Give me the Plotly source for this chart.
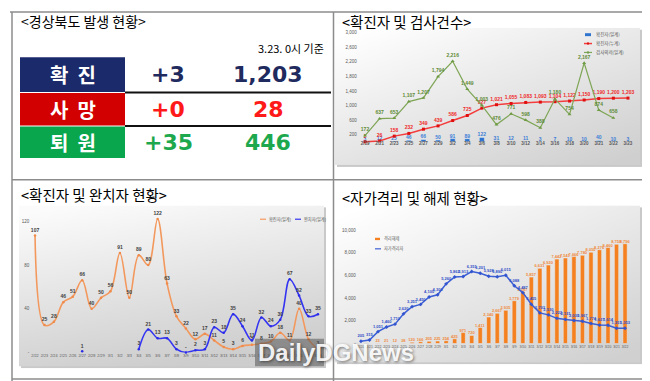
import base64
import plotly.graph_objects as go

W, H = 650, 381

# ---------------- data ----------------
summary_labels = ["확  진", "사  망", "퇴  원"]
summary_daily = ["+3", "+0", "+35"]
summary_total = ["1,203", "28", "446"]

test_dates = ["2/19", "2/21", "2/23", "2/25", "2/27", "2/29", "3/2", "3/4", "3/6", "3/8",
              "3/10", "3/12", "3/14", "3/16", "3/18", "3/20", "3/21", "3/22", "3/23"]
conf_daily_a = [3, 12, 25, 46, 66, 50, 91, 89, 122, 31, 12, 11, 3, 7, 10, 10, 40, 10, 3]
conf_cum_a = [1, 26, 158, 232, 349, 439, 586, 725, 927, 1021, 1055, 1083, 1093, 1104, 1122,
              1150, 1190, 1200, 1203]
tests_a = [172, 637, 653, 1107, 1207, 1794, 2216, 1449, 1003, 476, 771, 598, 388, 1180, 754,
           2167, 874, 658, None]
ticks_a = [-200, 200, 600, 1000, 1400, 1800, 2200, 2600, 3000]

rec_dates = ["2/22", "2/23", "2/24", "2/25", "2/26", "2/27", "2/28", "2/29", "3/1", "3/2",
             "3/3", "3/4", "3/5", "3/6", "3/7", "3/8", "3/9", "3/10", "3/11", "3/12", "3/13",
             "3/14", "3/15", "3/16", "3/17", "3/18", "3/19", "3/20", "3/21", "3/22", "3/23"]
conf_daily_b = [107, 25, 28, 46, 51, 66, 40, 50, 56, 91, 50, 89, 80, 122, 63, 33, 22, 12, 17,
                11, 5, 3, 6, 7, 8, 10, 18, 11, 40, 12, 3]
recovered_b = [None, None, None, None, None, 1, None, None, None, None, None, 3, 21, 13, 13, 3,
               0, 2, 3, 23, 18, 35, 24, 11, 32, 24, 30, 67, 52, 33, 35]
ticks_b = [0, 40, 80, 120]

iso_dates = ["2/20", "2/21", "2/22", "2/23", "2/24", "2/25", "2/26", "2/27", "2/28", "2/29",
             "3/1", "3/2", "3/3", "3/4", "3/5", "3/6", "3/7", "3/8", "3/9", "3/10", "3/11",
             "3/12", "3/13", "3/14", "3/15", "3/16", "3/17", "3/18", "3/19", "3/20", "3/21",
             "3/22"]
released_c = [None, None, 23, 21, 12, 38, 120, 166, 205, 225, 254, 425, 971, 720, 1411, 2340,
              2667, 2935, 3779, 4587, 5857, 6631, 6920, 7442, 7541, 7666, 7780, 8050, 8276,
              8460, 8750, 8796]
isolated_c = [205, 315, 1051, 1460, 1710, 2620, 3251, 3450, 4100, 4300, 5260, 5862, 5913, 6351,
              6201, 5928, 5890, 6015, 5088, 4487, 3455, 2703, 2530, 2222, 2131, 2030, 1967,
              1774, 1627, 1614, 1351, 1353]
ticks_c = [0, 2000, 4000, 6000, 8000, 10000]


def px(x):
    return x / W


def py(y):
    return 1 - y / H


def fmt(v, zero_dash=False):
    if v is None:
        return ""
    if zero_dash and v == 0:
        return "-"
    return f"{v:,}"


KR = "Noto Sans CJK KR, Noto Sans CJK SC, sans-serif"
AR = "Arial, Liberation Sans, sans-serif"

fig = go.Figure()

# ---------------- chart A: 확진자 및 검사건수 ----------------
fig.add_trace(go.Bar(
    x=test_dates, y=conf_daily_a, xaxis="x", yaxis="y", width=0.35,
    marker=dict(color="#2E74CF"), text=[fmt(v) for v in conf_daily_a],
    textposition="outside", constraintext="none", cliponaxis=False,
    textfont=dict(size=5, color="#3C7DD6", family=AR, weight="bold"), showlegend=False))
fig.add_trace(go.Scatter(
    x=test_dates, y=conf_cum_a, xaxis="x", yaxis="y", mode="lines+markers+text",
    line=dict(color="#F43C3C", width=1.5), marker=dict(symbol="square", size=3, color="#E01010"),
    text=[fmt(v) for v in conf_cum_a], textposition="top center", cliponaxis=False,
    textfont=dict(size=5, color="#F02A2A", family=AR, weight="bold"), showlegend=False))
fig.add_trace(go.Scatter(
    x=test_dates, y=tests_a, xaxis="x", yaxis="y", mode="lines+markers+text",
    line=dict(color="#7FA656", width=1.2),
    marker=dict(symbol="triangle-up", size=3.5, color="#6E9A44"),
    text=[fmt(v) for v in tests_a], textposition="top center", cliponaxis=False,
    textfont=dict(size=5, color="#5E8A35", family=AR, weight="bold"), showlegend=False))

# ---------------- chart B: 확진자 및 완치자 ----------------
fig.add_trace(go.Scatter(
    x=rec_dates, y=conf_daily_b, xaxis="x2", yaxis="y2", mode="lines+markers+text",
    line=dict(color="#F3985D", width=1.6, shape="spline", smoothing=1.0),
    marker=dict(size=2.5, color="#EE8A4A"),
    text=[fmt(v, True) for v in conf_daily_b], textposition="top center", cliponaxis=False,
    textfont=dict(size=5, color="#404040", family=AR, weight="bold"), showlegend=False))
fig.add_trace(go.Scatter(
    x=rec_dates, y=recovered_b, xaxis="x2", yaxis="y2", mode="lines+markers+text",
    line=dict(color="#3434F2", width=1.6, shape="spline", smoothing=1.0),
    marker=dict(size=2.5, color="#2A2AE8"), connectgaps=False,
    text=[fmt(v, True) for v in recovered_b], textposition="top center", cliponaxis=False,
    textfont=dict(size=5, color="#404040", family=AR, weight="bold"), showlegend=False))

# ---------------- chart C: 자가격리 및 해제 ----------------
fig.add_trace(go.Bar(
    x=iso_dates, y=released_c, xaxis="x3", yaxis="y3", width=0.5,
    marker=dict(color="#F5801F"), text=[fmt(v) for v in released_c],
    textposition="outside", constraintext="none", cliponaxis=False,
    textfont=dict(size=4, color="#F08A3C", family=AR, weight="bold"), showlegend=False))
fig.add_trace(go.Scatter(
    x=iso_dates, y=isolated_c, xaxis="x3", yaxis="y3", mode="lines+markers+text",
    line=dict(color="#3D5FD6", width=1.5),
    marker=dict(symbol="diamond", size=3, color="#3355D0"),
    text=[fmt(v) for v in isolated_c], textposition="top center", cliponaxis=False,
    textfont=dict(size=4, color="#2F4FC8", family=AR, weight="bold"), showlegend=False))

tickfont_small = dict(size=4.5, color="#595959", family=AR)

fig.update_layout(
    width=W, height=H, margin=dict(l=0, r=0, t=0, b=0),
    paper_bgcolor="white", plot_bgcolor="rgba(0,0,0,0)", showlegend=False,
    xaxis=dict(domain=[px(349.7), px(627.3)], anchor="y", type="category",
               range=[-0.5, len(test_dates) - 0.5], showgrid=False, zeroline=False,
               showline=False, ticks="", tickmode="array", tickvals=test_dates,
               ticktext=test_dates, tickangle=0, ticklabelposition="inside",
               tickfont=dict(size=4.5, color="#595959", family=AR, weight="bold")),
    yaxis=dict(domain=[py(141), py(23)], anchor="x", range=[-200, 3000], showgrid=False,
               zeroline=False, showline=False, ticks="", tickmode="array", tickvals=ticks_a,
               ticktext=[fmt(v) for v in ticks_a], tickfont=tickfont_small),
    xaxis2=dict(domain=[px(22.3), px(314.7)], anchor="y2", type="category",
                range=[-0.5, len(rec_dates) - 0.5], showgrid=False, zeroline=False,
                showline=False, ticks="", tickmode="array", tickvals=rec_dates,
                ticktext=rec_dates, tickangle=0,
                tickfont=dict(size=3.8, color="#595959", family=AR)),
    yaxis2=dict(domain=[py(347), py(205.2)], anchor="x2", range=[0, 128], showgrid=False,
                zeroline=False, showline=False, ticks="", tickmode="array", tickvals=ticks_b,
                ticktext=[fmt(v, True) for v in ticks_b], tickfont=tickfont_small),
    xaxis3=dict(domain=[px(348.7), px(621.3)], anchor="y3", type="category",
                range=[-0.5, len(iso_dates) - 0.5], showgrid=False, zeroline=False,
                showline=False, ticks="", tickmode="array", tickvals=iso_dates,
                ticktext=iso_dates, tickangle=0,
                tickfont=dict(size=3.4, color="#595959", family=AR)),
    yaxis3=dict(domain=[py(338), py(223)], anchor="x3", range=[0, 10000], showgrid=False,
                zeroline=False, showline=False, ticks="", tickmode="array", tickvals=ticks_c,
                ticktext=[fmt(v, True) for v in ticks_c], tickfont=tickfont_small),
    bargap=0.5,
)


# ---------------- chart backgrounds (gradients) ----------------
def grad_img(x0, y0, x1, y1, c0, c1, g):
    w, h = x1 - x0, y1 - y0
    svg = (f'<svg xmlns="http://www.w3.org/2000/svg" width="{w}" height="{h}" '
           f'viewBox="0 0 {w} {h}" preserveAspectRatio="none"><defs>'
           f'<linearGradient id="g" x1="{g[0]}" y1="{g[1]}" x2="{g[2]}" y2="{g[3]}">'
           f'<stop offset="0" stop-color="{c0}"/><stop offset="1" stop-color="{c1}"/>'
           f'</linearGradient></defs>'
           f'<rect x="2" y="2" width="{w - 2}" height="{h - 2}" fill="#c9c9c9"/>'
           f'<rect x="0" y="0" width="{w - 2}" height="{h - 2}" fill="url(#g)"/></svg>')
    src = "data:image/svg+xml;base64," + base64.b64encode(svg.encode()).decode()
    return dict(source=src, xref="paper", yref="paper", x=px(x0), y=py(y0),
                sizex=(w) / W, sizey=(h) / H, xanchor="left", yanchor="top",
                sizing="stretch", layer="below")


fig.update_layout(images=[
    grad_img(327, 18, 634, 159, "#ffffff", "#cfcfcf", (0.1, 0, 0.9, 1)),
    grad_img(11, 198, 318, 363, "#fbfbfb", "#cdcdcd", (0.2, 0, 0.5, 1)),
    grad_img(327, 198, 634, 359, "#ffffff", "#d0d0d0", (0.1, 0, 0.9, 1)),
])

shapes = []
ann = []


def line(x0, y0, x1, y1, color="#8c8c8c", width=1.5):
    shapes.append(dict(type="line", xref="paper", yref="paper", x0=px(x0), y0=py(y0),
                       x1=px(x1), y1=py(y1), line=dict(color=color, width=width)))


def rect(x0, y0, x1, y1, fill, lw=0, lc=None):
    shapes.append(dict(type="rect", xref="paper", yref="paper", x0=px(x0), y0=py(y0),
                       x1=px(x1), y1=py(y1), fillcolor=fill,
                       line=dict(width=lw, color=lc or fill)))


def text(x, y, s, size, color="#000000", family=KR, xanchor="left", weight="normal", **kw):
    ann.append(dict(x=px(x), y=py(y), xref="paper", yref="paper", text=s, showarrow=False,
                    xanchor=xanchor, yanchor="middle",
                    font=dict(size=size, color=color, family=family, weight=weight), **kw))


# frame lines
line(2, 2, 648, 2)
line(4, 2, 4, 381)
line(325.5, 2, 325.5, 381)
line(647, 2, 647, 381)
line(4, 172, 647, 172)
line(4, 374, 647, 374)

# ---------------- panel 1: table ----------------
text(11, 11, "&lt;경상북도 발생 현황&gt;", 14)
text(318, 38, "3.23. 0시 기준", 11, xanchor="right")
box_colors = ["#1B2A6B", "#D20000", "#0AA64E"]
num_colors = ["#1F2A5E", "#FF1A1A", "#1EA84E"]
rows = [(48, 83), (84, 117), (118, 150)]
for i, (y0, y1) in enumerate(rows):
    rect(12, y0, 117, y1, box_colors[i])
    yc = (y0 + y1) / 2
    text(64.5, yc, summary_labels[i], 20, "white", KR, xanchor="center", weight="bold")
    text(160, yc, summary_daily[i], 22, num_colors[i], "DejaVu Sans", xanchor="center",
         weight="bold")
    text(260, yc, summary_total[i], 22, num_colors[i], "DejaVu Sans", xanchor="center",
         weight="bold")
line(117, 83.5, 323, 83.5, "#111111", 2)
line(117, 117.5, 323, 117.5, "#111111", 2)

# ---------------- panel titles ----------------
text(332, 12, "&lt;확진자 및 검사건수&gt;", 14.5)
text(11, 187, "&lt;확진자 및 완치자 현황&gt;", 14.5)
text(332, 190, "&lt;자가격리 및 해제 현황&gt;", 14.5)
text(22, 386, "&lt;시군별 발생 현황&gt;", 14.5)

# ---------------- legends ----------------
LG = dict(size=4.5, color="#595959", family=KR)
# chart A
rect(577, 23.5, 583, 26.5, "#2E74CF")
text(586, 25, "확진자(일계)", 4.5, "#595959")
line(576, 34, 584, 34, "#F43C3C", 1.5)
rect(579, 33, 581, 35, "#E01010")
text(586, 34, "확진자(누계)", 4.5, "#595959")
line(576, 43, 584, 43, "#7FA656", 1.2)
rect(579, 42, 581, 44, "#6E9A44")
text(586, 43, "검사의뢰(일계)", 4.5, "#595959")
# chart B
line(252, 212, 258, 212, "#F3985D", 1.2)
text(259, 212, "확진자(일계)", 4.2, "#595959")
line(287, 212, 293, 212, "#3434F2", 1.2)
text(294, 212, "완치자(일계)", 4.2, "#595959")
# chart C
rect(367, 230.8, 372, 233.2, "#F5801F")
text(374, 232, "격리해제", 4.2, "#595959")
line(367, 242, 373, 242, "#3D5FD6", 1.2)
text(374, 242, "자가격리자", 4.2, "#595959")

# ---------------- watermark ----------------
rect(247, 333, 316, 361, "rgba(85,85,85,0.55)")
ann.append(dict(x=px(328), y=py(347), xref="paper", yref="paper", text="DailyDGNews",
                showarrow=False, xanchor="center", yanchor="middle",
                font=dict(size=24, color="rgba(255,255,255,0.92)", family=AR, weight="bold",
                          shadow="1px 1px 3px rgba(0,0,0,0.55)")))

fig.update_layout(shapes=shapes, annotations=ann)
fig.write_html("out.html")
